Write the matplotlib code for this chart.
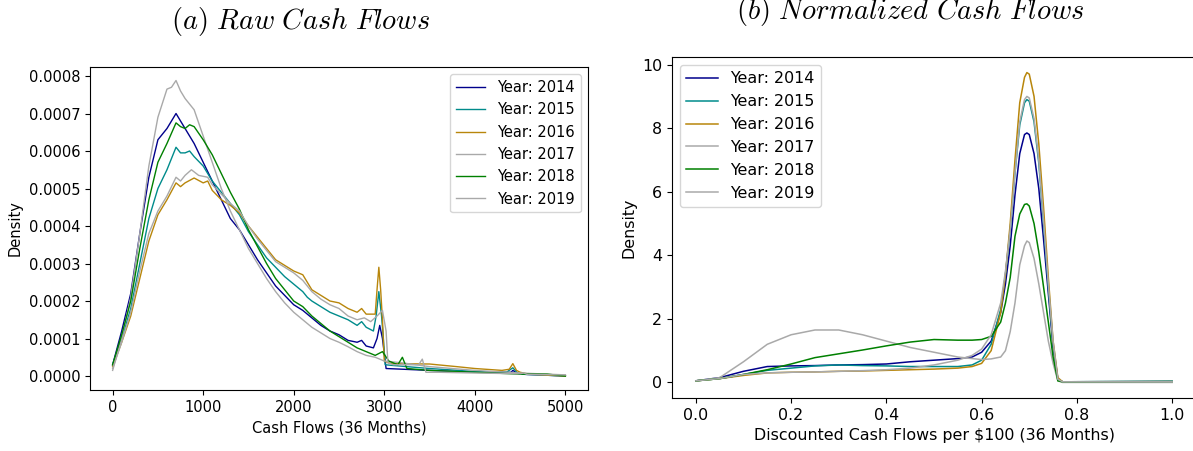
import numpy as np
import matplotlib
matplotlib.use("Agg")
import matplotlib.pyplot as plt
from matplotlib.ticker import FormatStrFormatter

plt.rcParams['mathtext.fontset'] = 'cm'

years = ['Year: 2014', 'Year: 2015', 'Year: 2016', 'Year: 2017', 'Year: 2018', 'Year: 2019']
colors = ['darkblue', 'darkcyan', 'darkgoldenrod', 'darkgray', 'green', 'darkgray']

# (a) raw cash flows, density in units of 1e-4
raw_x_2014 = [0, 100, 200, 300, 400, 500, 600, 650, 700, 750, 800, 900, 1000, 1100, 1200, 1300, 1400, 1500,
              1600, 1700, 1800, 1900, 2000, 2100, 2150, 2200, 2300, 2400, 2500, 2600, 2700, 2750, 2800, 2880,
              2920, 2950, 2980, 3000, 3020, 3500, 4000, 4400, 4420, 4450, 4500, 5000]
raw_y_2014 = [0.3, 1.2, 2.2, 3.8, 5.3, 6.3, 6.6, 6.8, 7.0, 6.8, 6.6, 6.2, 5.7, 5.2, 4.7, 4.2, 3.9, 3.5,
              3.1, 2.75, 2.4, 2.15, 1.9, 1.75, 1.65, 1.55, 1.35, 1.2, 1.1, 0.95, 0.9, 0.95, 0.8, 0.75,
              1.0, 1.35, 1.0, 0.6, 0.2, 0.15, 0.1, 0.1, 0.15, 0.1, 0.05, 0.0]

raw_x_2015 = [0, 100, 200, 300, 400, 500, 600, 700, 750, 800, 850, 900, 1000, 1100, 1200, 1300, 1400, 1500,
              1600, 1700, 1800, 1900, 2000, 2100, 2150, 2200, 2300, 2400, 2500, 2600, 2700, 2750, 2800, 2880,
              2910, 2940, 2970, 2990, 3010, 3100, 3500, 4000, 4350, 4420, 4470, 4500, 5000]
raw_y_2015 = [0.3, 1.0, 1.8, 3.0, 4.2, 5.0, 5.5, 6.1, 5.95, 5.95, 6.0, 5.85, 5.6, 5.2, 4.9, 4.6, 4.3, 3.85,
              3.5, 3.15, 2.9, 2.65, 2.45, 2.25, 2.1, 2.0, 1.85, 1.7, 1.6, 1.5, 1.35, 1.45, 1.3, 1.2,
              1.6, 2.25, 1.6, 1.0, 0.3, 0.28, 0.2, 0.12, 0.1, 0.22, 0.08, 0.05, 0.0]

raw_x_2016 = [0, 100, 200, 300, 400, 500, 600, 700, 750, 800, 900, 1000, 1050, 1100, 1200, 1300, 1400, 1500,
              1600, 1700, 1800, 1900, 2000, 2100, 2150, 2200, 2300, 2400, 2500, 2600, 2700, 2750, 2800, 2900,
              2920, 2940, 2960, 2980, 3000, 3050, 3100, 3500, 3800, 4000, 4300, 4380, 4420, 4460, 4500, 4600, 5000]
raw_y_2016 = [0.25, 0.9, 1.6, 2.6, 3.6, 4.3, 4.7, 5.15, 5.05, 5.15, 5.28, 5.15, 5.2, 4.95, 4.7, 4.55, 4.35, 4.0,
              3.7, 3.4, 3.1, 2.95, 2.8, 2.7, 2.5, 2.3, 2.15, 2.0, 1.95, 1.8, 1.7, 1.8, 1.65, 1.65,
              2.3, 2.9, 2.3, 1.5, 0.4, 0.35, 0.33, 0.32, 0.25, 0.2, 0.15, 0.18, 0.33, 0.15, 0.1, 0.05, 0.0]

raw_x_2017 = [0, 100, 200, 300, 400, 500, 600, 650, 700, 750, 800, 900, 1000, 1100, 1200, 1300, 1400, 1500,
              1600, 1700, 1800, 1900, 2000, 2100, 2200, 2300, 2400, 2500, 2600, 2700, 2800, 2900, 3000,
              3200, 3500, 4000, 4500, 5000]
raw_y_2017 = [0.15, 1.0, 2.1, 3.8, 5.6, 6.9, 7.65, 7.7, 7.88, 7.6, 7.4, 7.1, 6.4, 5.7, 5.0, 4.4, 3.9, 3.4,
              3.0, 2.6, 2.25, 1.95, 1.7, 1.5, 1.3, 1.15, 1.0, 0.9, 0.78, 0.65, 0.55, 0.5, 0.4,
              0.35, 0.25, 0.15, 0.08, 0.03]

raw_x_2018 = [0, 100, 200, 300, 400, 500, 600, 700, 750, 800, 850, 900, 1000, 1100, 1200, 1300, 1400, 1500,
              1600, 1700, 1800, 1900, 2000, 2100, 2200, 2300, 2400, 2500, 2600, 2700, 2800, 2900, 2980,
              3050, 3150, 3200, 3250, 3500, 4000, 4500, 4800, 5000]
raw_y_2018 = [0.3, 1.1, 2.0, 3.4, 4.7, 5.7, 6.2, 6.75, 6.65, 6.6, 6.7, 6.65, 6.3, 5.9, 5.4, 4.9, 4.45, 3.9,
              3.45, 3.0, 2.6, 2.3, 2.0, 1.85, 1.6, 1.4, 1.2, 1.05, 0.9, 0.75, 0.65, 0.55, 0.65,
              0.4, 0.3, 0.5, 0.2, 0.15, 0.1, 0.05, 0.05, 0.0]

raw_x_2019 = [0, 100, 200, 300, 400, 500, 600, 700, 750, 800, 870, 950, 1050, 1100, 1200, 1300, 1400, 1500,
              1600, 1700, 1800, 1900, 2000, 2100, 2200, 2300, 2400, 2500, 2600, 2700, 2780, 2850, 2920,
              2980, 3020, 3040, 3100, 3380, 3420, 3460, 3600, 4000, 4500, 4540, 4580, 5000]
raw_y_2019 = [0.2, 0.9, 1.7, 2.8, 3.8, 4.4, 4.8, 5.3, 5.2, 5.35, 5.5, 5.35, 5.3, 5.1, 4.85, 4.6, 4.4, 4.0,
              3.65, 3.35, 3.05, 2.9, 2.75, 2.55, 2.25, 2.05, 1.9, 1.8, 1.6, 1.5, 1.55, 1.45, 1.6,
              1.75, 1.2, 0.35, 0.3, 0.3, 0.45, 0.1, 0.1, 0.08, 0.06, 0.08, 0.04, 0.03]

# (b) normalized cash flows
norm_x = [0.0, 0.05, 0.1, 0.15, 0.2, 0.25, 0.3, 0.35, 0.4, 0.45, 0.5, 0.55, 0.58, 0.6, 0.62, 0.64, 0.65,
          0.66, 0.67, 0.68, 0.69, 0.695, 0.7, 0.71, 0.72, 0.73, 0.74, 0.75, 0.76, 0.77, 1.0]
norm_2014 = [0.05, 0.15, 0.35, 0.5, 0.52, 0.53, 0.55, 0.56, 0.58, 0.65, 0.7, 0.75, 0.8, 0.95, 1.3, 2.2, 3.1,
             4.3, 5.9, 7.2, 7.8, 7.85, 7.8, 7.2, 6.1, 4.5, 2.8, 1.1, 0.1, 0.02, 0.03]
norm_2015 = [0.05, 0.12, 0.25, 0.38, 0.45, 0.52, 0.55, 0.53, 0.52, 0.5, 0.5, 0.5, 0.55, 0.7, 1.2, 2.3, 3.4,
             4.8, 6.6, 8.1, 8.8, 8.9, 8.85, 8.2, 6.9, 5.0, 3.0, 1.2, 0.1, 0.02, 0.03]
norm_2016 = [0.05, 0.12, 0.22, 0.3, 0.32, 0.33, 0.35, 0.36, 0.38, 0.4, 0.42, 0.45, 0.5, 0.6, 1.0, 2.2, 3.4,
             5.0, 7.0, 8.8, 9.6, 9.75, 9.7, 9.0, 7.5, 5.5, 3.3, 1.3, 0.15, 0.02, 0.02]
norm_2017 = [0.05, 0.15, 0.65, 1.2, 1.5, 1.65, 1.65, 1.5, 1.3, 1.1, 0.95, 0.8, 0.75, 0.72, 0.74, 0.8, 1.0,
             1.6, 2.5, 3.7, 4.3, 4.45, 4.4, 3.9, 3.1, 2.2, 1.3, 0.6, 0.05, 0.0, 0.0]
norm_2018 = [0.05, 0.12, 0.25, 0.4, 0.58, 0.78, 0.9, 1.02, 1.15, 1.27, 1.35, 1.33, 1.33, 1.35, 1.45, 1.9, 2.5,
             3.3, 4.6, 5.3, 5.6, 5.62, 5.55, 5.0, 4.1, 3.0, 1.9, 0.8, 0.05, 0.02, 0.03]
norm_2019 = [0.05, 0.12, 0.25, 0.3, 0.32, 0.33, 0.35, 0.37, 0.4, 0.45, 0.55, 0.7, 0.85, 1.05, 1.5, 2.5, 3.5,
             4.8, 6.6, 8.2, 8.9, 9.0, 8.95, 8.3, 7.0, 5.1, 3.1, 1.3, 0.1, 0.02, 0.02]

raw_x = [raw_x_2014, raw_x_2015, raw_x_2016, raw_x_2017, raw_x_2018, raw_x_2019]
raw_y = [raw_y_2014, raw_y_2015, raw_y_2016, raw_y_2017, raw_y_2018, raw_y_2019]
norm_y = [norm_2014, norm_2015, norm_2016, norm_2017, norm_2018, norm_2019]

fig = plt.figure(figsize=(11.93, 4.51), dpi=100)
ax1 = fig.add_axes([90 / 1193, 61 / 451, 498 / 1193, 323 / 451])
ax2 = fig.add_axes([672 / 1193, 53 / 451, 524 / 1193, 341 / 451])

for xs, ys, lab, c in zip(raw_x, raw_y, years, colors):
    ax1.plot(xs, np.array(ys) * 1e-4, color=c, lw=1.0, label=lab)
ax1.set_xticks([0, 1000, 2000, 3000, 4000, 5000])
ax1.set_yticks(np.arange(0, 0.00081, 0.0001))
ax1.yaxis.set_major_formatter(FormatStrFormatter('%.4f'))
ax1.set_xlim(-250, 5250)
ax1.set_ylim(-0.0000373, 0.000824)
ax1.set_xlabel('Cash Flows (36 Months)', fontsize=10.5)
ax1.set_ylabel('Density', fontsize=10.5)
ax1.tick_params(labelsize=10.5)
ax1.legend(loc='upper right', fontsize=10.5)

fs2 = 11.4
for ys, lab, c in zip(norm_y, years, colors):
    ax2.plot(norm_x, ys, color=c, lw=1.1, label=lab)
ax2.set_xlim(-0.05, 1.05)
ax2.set_ylim(-0.49, 10.24)
ax2.set_xticks([0.0, 0.2, 0.4, 0.6, 0.8, 1.0])
ax2.set_yticks([0, 2, 4, 6, 8, 10])
ax2.set_xlabel('Discounted Cash Flows per \\$100 (36 Months)', fontsize=fs2)
ax2.set_ylabel('Density', fontsize=fs2)
ax2.tick_params(labelsize=fs2)
ax2.legend(loc='upper left', fontsize=fs2)

fig.text(300 / 1193, 1 - 22 / 451, r'$\mathit{(a)\ Raw\ Cash\ Flows}$', ha='center', va='center', fontsize=20.5)
fig.text(910 / 1193, 1 - 11 / 451, r'$\mathit{(b)\ Normalized\ Cash\ Flows}$', ha='center', va='center', fontsize=20.5)

fig.savefig('out.png', dpi=100)
